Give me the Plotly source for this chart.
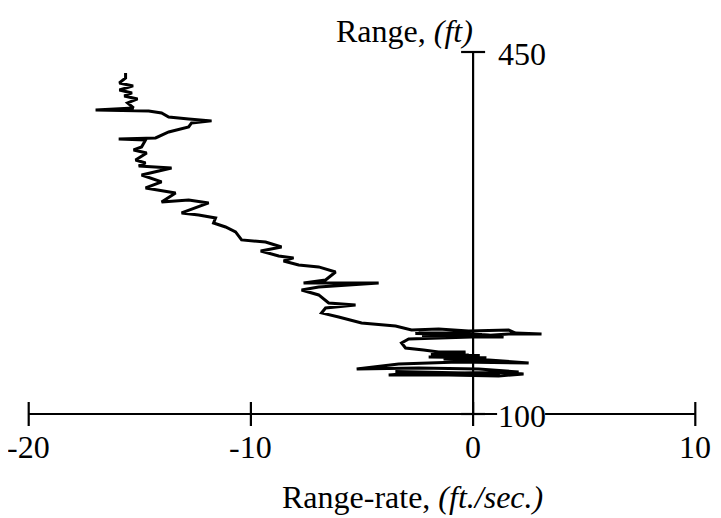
import plotly.graph_objects as go

# ---- data ----
range_rate = [
    -15.64, -15.64, -15.92, -15.30, -15.92, -15.35, -15.70, -15.10, -15.55, -15.28,
    -16.99, -14.60, -14.02, -13.70, -12.80, -11.77, -12.67, -12.80, -13.70, -14.29,
    -15.95, -14.74, -14.92, -15.28, -14.69, -15.19, -14.74, -15.05, -13.57, -14.92,
    -14.02, -14.74, -13.39, -14.02, -12.80, -11.90, -13.12, -12.35, -11.59, -11.68,
    -11.14, -10.69, -10.42, -9.34, -8.62, -9.56, -8.75, -8.08, -8.53, -7.85,
    -6.95, -6.19, -6.64, -7.63, -4.25, -6.95, -7.72, -6.95, -6.50, -5.29,
    -6.64, -6.82, -6.05, -5.02, -3.49, -2.77,
    -1.55, -0.20, 1.60, 1.91, 3.08, 1.60, 0.25, -2.30, -0.50, -2.60,
    0.40, -1.80, -1.55, -2.45, -0.88,
    0.70, 1.37, -0.07, -2.00, -2.90, -3.22, -3.04, -2.23, -1.55, -0.34,
    -1.10, -1.90, 0.30, -2.00, 0.60, -1.55, -0.20, -0.65, -1.33, 0.70, 2.50,
    -0.65, -3.35, -5.24,
    -2.45, 0.25, 1.37, 2.05, -0.65, -3.50, 1.20, -2.80, -3.35, -3.80, -1.10,
    1.15, 2.27, 1.37,
]
range_ft = [
    429.8, 424.9, 420.1, 417.2, 413.3, 410.4, 407.5, 404.6, 400.8, 395.9,
    394.0, 393.0, 391.1, 387.2, 385.3, 383.4, 381.4, 377.6, 372.7, 366.9,
    366.0, 365.0, 358.2, 355.3, 352.4, 345.6, 342.7, 339.8, 337.9, 331.1,
    324.4, 318.6, 313.7, 305.0, 307.0, 304.1, 294.4, 292.5, 289.6, 284.7,
    280.8, 276.0, 268.3, 266.3, 261.5, 257.6, 252.8, 250.9, 248.0, 244.1,
    242.2, 237.3, 229.6, 226.7, 226.7, 222.8, 219.9, 215.1, 207.3, 205.4,
    202.5, 197.7, 193.8, 188.0, 185.1, 181.2,
    182.2, 180.3, 181.2, 178.3, 177.4, 177.4, 175.4, 176.0, 177.2, 177.8,
    176.8, 175.0, 176.4, 178.3, 178.3,
    176.4, 174.5, 174.5, 173.5, 172.5, 168.7, 163.8, 161.9, 160.0, 160.0,
    158.0, 157.5, 156.5, 155.0, 154.5, 156.1, 157.1, 154.2, 153.2, 152.2, 149.3,
    150.3, 148.4, 143.5,
    144.5, 143.5, 141.6, 140.6, 139.7, 141.0, 139.0, 139.5, 138.7, 137.7, 137.7,
    136.7, 138.7, 140.6,
]

x_ticks = [-20, -10, 0, 10]
x_tick_labels = ["-20", "-10", "0", "10"]
y_ticks = [100, 450]
y_tick_labels = ["100", "450"]
x_title = "Range-rate, <i>(ft./sec.)</i>"
y_title = "Range, <i>(ft)</i>"

FONT = "Liberation Serif, Times New Roman, serif"
FS = 32

# The page body adds an 8 px offset, so the figure is drawn 8 px smaller
OFF = 8
W, H = 721 - OFF, 518 - OFF

# reference pixel geometry (window coordinates)
PX_X20, PX_X10 = 28.7, 695.3      # x = -20 and x = 10
PX_Y450, PX_Y100 = 52.0, 414.0    # y = 450 and y = 100
ppx = (PX_X10 - PX_X20) / 30.0
ppy = (PX_Y100 - PX_Y450) / 350.0
X_RANGE = [-20 - (PX_X20 - OFF) / ppx, 10 + (W - (PX_X10 - OFF)) / ppx]
Y_RANGE = [100 - (H - (PX_Y100 - OFF)) / ppy, 450 + (PX_Y450 - OFF) / ppy]
tick_half_x = 12 / ppx
tick_half_y = 12 / ppy
LABEL_SHIFT = 23     # px from y axis to the y tick labels
LABEL_W = 49         # px width of a 3-digit label


def paper_x(px):
    return (px - OFF) / W


def paper_y(py):
    return 1 - (py - OFF) / H


fig = go.Figure()

# axis lines and crossing tick marks, built from the tick arrays
ax_x, ax_y = [], []
ax_x += [x_ticks[0], x_ticks[-1], None]
ax_y += [y_ticks[0], y_ticks[0], None]
ax_x += [0, 0, None]
ax_y += [y_ticks[0], y_ticks[-1], None]
for xv in x_ticks:
    ax_x += [xv, xv, None]
    ax_y += [y_ticks[0] - tick_half_y, y_ticks[0] + tick_half_y, None]
for yv in y_ticks:
    ax_x += [-tick_half_x, tick_half_x, None]
    ax_y += [yv, yv, None]
fig.add_trace(go.Scatter(
    x=ax_x, y=ax_y, mode="lines", line=dict(color="black", width=2.2),
    hoverinfo="skip", showlegend=False, connectgaps=False,
))

fig.add_trace(go.Scatter(
    x=range_rate, y=range_ft, mode="lines",
    line=dict(color="black", width=3), hoverinfo="skip", showlegend=False,
))

shapes = [
    # white gap in the x axis line behind the "100" label
    dict(type="rect", xref="x", yref="y",
         x0=(LABEL_SHIFT + 1) / ppx, x1=(LABEL_SHIFT + LABEL_W) / ppx,
         y0=y_ticks[0] - 3 / ppy, y1=y_ticks[0] + 3 / ppy,
         fillcolor="white", line=dict(width=0)),
]

annotations = []
for xv, lab in zip(x_ticks, x_tick_labels):
    annotations.append(dict(x=xv, y=y_ticks[0], xref="x", yref="y", text=lab,
                            showarrow=False, xanchor="center", yanchor="middle",
                            yshift=-33, font=dict(family=FONT, size=FS, color="black")))
for yv, lab in zip(y_ticks, y_tick_labels):
    annotations.append(dict(x=0, y=yv, xref="x", yref="y", text=lab,
                            showarrow=False, xanchor="left", yanchor="middle",
                            xshift=LABEL_SHIFT, yshift=-2,
                            font=dict(family=FONT, size=FS, color="black")))
annotations.append(dict(x=paper_x(404), y=paper_y(31), xref="paper", yref="paper",
                        text=y_title, showarrow=False, xanchor="center", yanchor="middle",
                        font=dict(family=FONT, size=FS, color="black")))
annotations.append(dict(x=paper_x(412), y=paper_y(497), xref="paper", yref="paper",
                        text=x_title, showarrow=False, xanchor="center", yanchor="middle",
                        font=dict(family=FONT, size=FS, color="black")))

fig.update_layout(
    width=W, height=H,
    margin=dict(l=0, r=0, t=0, b=0, pad=0),
    paper_bgcolor="white", plot_bgcolor="white",
    xaxis=dict(range=X_RANGE, visible=False, fixedrange=True, zeroline=False, showgrid=False),
    yaxis=dict(range=Y_RANGE, visible=False, fixedrange=True, zeroline=False, showgrid=False),
    shapes=shapes, annotations=annotations,
)

fig.write_html("out.html")
